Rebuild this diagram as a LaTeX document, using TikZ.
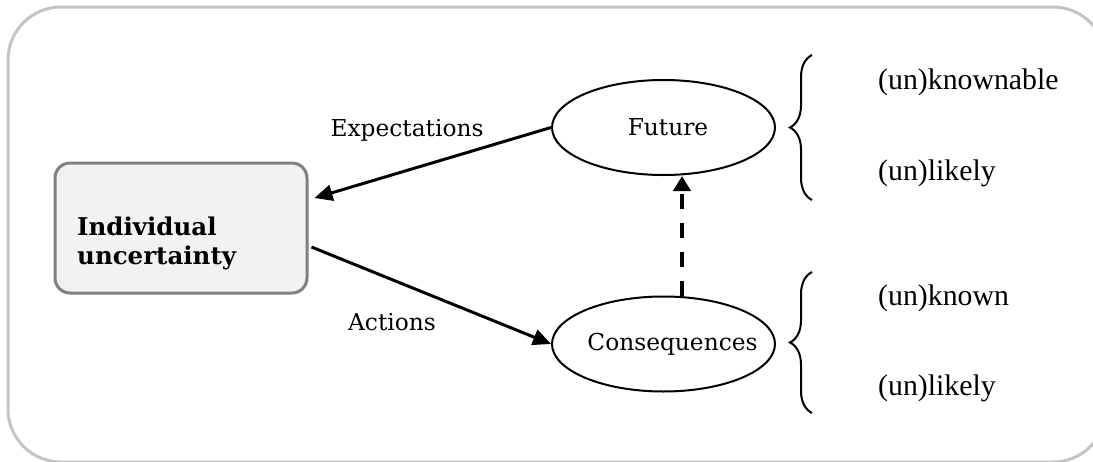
\documentclass[tikz,border=0pt]{standalone}
\usepackage{fontspec}
\setmainfont{DejaVu Serif}
\newfontfamily\timesf{Liberation Serif}
\usetikzlibrary{arrows.meta,decorations.pathreplacing,shapes.geometric}
\definecolor{framegray}{HTML}{C4C4C4}
\definecolor{boxgray}{HTML}{808080}
\definecolor{boxfill}{HTML}{F2F2F2}
\begin{document}
\begin{tikzpicture}[x=1pt,y=-1pt,
  oval/.style={ellipse, draw, line width=2pt, minimum width=223pt, minimum height=95pt, inner sep=0pt, font=\fontsize{23.3}{27}\selectfont},
  lbl/.style={font=\fontsize{23.3}{27}\selectfont, inner sep=0pt},
  side/.style={font=\timesf\fontsize{29.8}{34}\selectfont, anchor=west, inner sep=0pt},
  arr/.style={line width=3pt, -{Triangle[length=18pt,width=16pt]}},
  brc/.style={decorate, decoration={brace, amplitude=22pt}, line width=2pt}]
\useasboundingbox (0,0) rectangle (1093,461);
\draw[framegray, line width=3pt, rounded corners=53pt] (8,7) rectangle (1106,462);
\node[draw=boxgray, fill=boxfill, line width=3pt, rounded corners=15pt, minimum width=252pt, minimum height=130pt, inner sep=0pt] (box) at (181,228) {};
\node[anchor=west, align=left, font=\bfseries\fontsize{24.5}{29}\selectfont, inner sep=0pt] (boxtxt) at (77,243) {Individual\\uncertainty};
\node[oval] (fut) at (663.5,127.5) {\makebox[0pt]{\hspace*{9pt}Future}};
\node[oval] (cons) at (663.5,344) {\makebox[0pt]{\hspace*{18pt}Consequences}};
\draw[arr] (fut.west) -- ([shift={(6pt,30pt)}]box.east);
\node[lbl] (exp) at (407,130) {Expectations};
\draw[arr] ([shift={(3pt,-19pt)}]box.east) -- (cons.west);
\node[lbl] (act) at (392,322) {Actions};
\draw[line width=4.5pt, dash pattern=on 15pt off 14pt, -{Triangle[length=15pt,width=17pt]}] ([xshift=18.5pt]cons.north) -- ([xshift=18.5pt]fut.south);
\draw[brc] (812,200) -- (812,55);
\draw[brc] (812,413) -- (812,272);
\node[side] (k1) at (878,82) {(un)knownable};
\node[side] (l1) at (878,173) {(un)likely};
\node[side] (k2) at (878,298) {(un)known};
\node[side] (l2) at (878,388) {(un)likely};
\end{tikzpicture}
\end{document}
